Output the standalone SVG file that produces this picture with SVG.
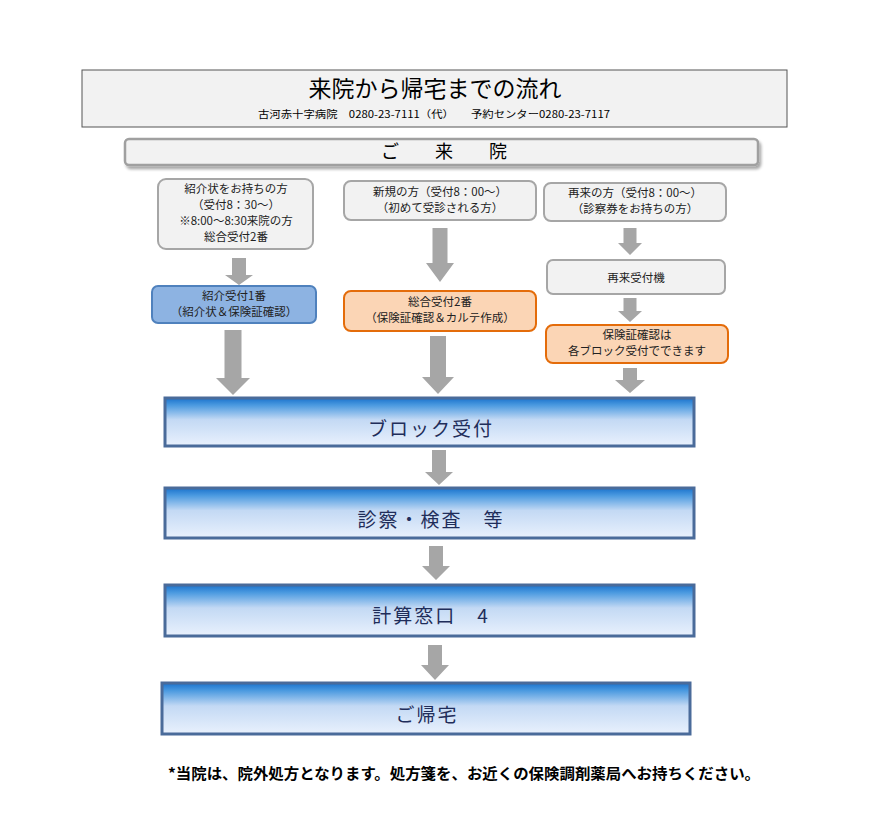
<svg xmlns="http://www.w3.org/2000/svg" width="876" height="834" viewBox="0 0 876 834">
<defs>
<linearGradient id="blueGrad" x1="0" y1="0" x2="0" y2="1">
<stop offset="0" stop-color="#1a72cc"/>
<stop offset="0.15" stop-color="#4b9ae0"/>
<stop offset="0.45" stop-color="#c3d9f4"/>
<stop offset="1" stop-color="#e9f1fd"/>
</linearGradient>
<filter id="shadow" x="-5%" y="-30%" width="110%" height="180%">
<feGaussianBlur in="SourceAlpha" stdDeviation="1.5"/>
<feOffset dx="2" dy="3" result="o"/>
<feComponentTransfer><feFuncA type="linear" slope="0.35"/></feComponentTransfer>
<feMerge><feMergeNode/><feMergeNode in="SourceGraphic"/></feMerge>
</filter>
</defs>
<style>
text{font-family:"Noto Sans CJK JP","Noto Sans",sans-serif;text-anchor:middle;fill:#222}
.small{font-size:11.5px}
.big{font-size:19px;fill:#1f2d5a;letter-spacing:2px}
.gray{fill:#f2f2f2;stroke:#a6a6a6;stroke-width:2}
.orange{fill:#fbd5b5;stroke:#e46c0a;stroke-width:2}
.blue{fill:#8db3e2;stroke:#4f81bd;stroke-width:2}
.stage{fill:url(#blueGrad);stroke:#4a6b9a;stroke-width:3}
.arrow{fill:#a6a6a6}
</style>
<rect width="876" height="834" fill="#ffffff"/>

<g id="header">
<rect x="82" y="70" width="705" height="57" fill="#f2f2f2" stroke="#555555" stroke-width="1"/>
<text x="435" y="97" style="font-size:23px;fill:#000">来院から帰宅までの流れ</text>
<text x="434" y="118" style="font-size:10px;fill:#000" textLength="352" lengthAdjust="spacingAndGlyphs">古河赤十字病院　0280-23-7111（代）　　予約センター0280-23-7117</text>
</g>

<g id="raiin">
<rect x="125" y="139" width="633" height="26" rx="4" fill="#f2f2f2" stroke="#a0a0a0" stroke-width="2.5" filter="url(#shadow)"/>
<text x="444" y="158" style="font-size:18px;fill:#000">ご　　来　　院</text>
</g>

<g id="shokaijo">
<rect x="158" y="179" width="155" height="70" rx="8" class="gray"/>
<text x="236" y="193" class="small">紹介状をお持ちの方</text>
<text x="236" y="209" class="small">（受付8：30～）</text>
<text x="236" y="225" class="small">※8:00～8:30来院の方</text>
<text x="236" y="241" class="small">総合受付2番</text>
</g>

<g id="shokai1">
<rect x="152" y="286" width="164" height="37" rx="6" class="blue"/>
<text x="234" y="300" class="small">紹介受付1番</text>
<text x="234" y="316" class="small">（紹介状＆保険証確認）</text>
</g>

<g id="shinki">
<rect x="344" y="181" width="192" height="39" rx="7" class="gray"/>
<text x="440" y="196" class="small">新規の方（受付8：00～）</text>
<text x="440" y="212" class="small">（初めて受診される方）</text>
</g>

<g id="sogo2">
<rect x="344" y="291" width="192" height="40" rx="7" class="orange"/>
<text x="440" y="306" class="small">総合受付2番</text>
<text x="440" y="322" class="small">（保険証確認＆カルテ作成）</text>
</g>

<g id="sairai">
<rect x="544" y="183" width="182" height="38" rx="7" class="gray"/>
<text x="635" y="197" class="small">再来の方（受付8：00～）</text>
<text x="635" y="213" class="small">（診察券をお持ちの方）</text>
</g>

<g id="sairaiki">
<rect x="547" y="260" width="178" height="34" rx="6" class="gray"/>
<text x="636" y="282" class="small">再来受付機</text>
</g>

<g id="hokensho">
<rect x="546" y="325" width="182" height="38" rx="7" class="orange"/>
<text x="637" y="339" class="small">保険証確認は</text>
<text x="637" y="355" class="small">各ブロック受付でできます</text>
</g>

<g id="block">
<rect x="165" y="398" width="529" height="48" class="stage"/>
<text x="431" y="436" class="big">ブロック受付</text>
</g>

<g id="shinsatsu">
<rect x="165" y="488" width="529" height="50" class="stage"/>
<text x="431" y="527" class="big">診察・検査　等</text>
</g>

<g id="keisan">
<rect x="165" y="585" width="529" height="51" class="stage"/>
<text x="431" y="623" class="big">計算窓口　4</text>
</g>

<g id="kitaku">
<rect x="162" y="683" width="528" height="51" class="stage"/>
<text x="427" y="722" class="big">ご帰宅</text>
</g>

<g id="connectors">
<polygon class="arrow" points="232,258 246,258 246,275 253,275 239,285 225,275 232,275"/>
<polygon class="arrow" points="224.5,330 241.5,330 241.5,378 250,378 233,395 216,378 224.5,378"/>
<polygon class="arrow" points="432.5,228 447.5,228 447.5,263 454,263 440,282 426,263 432.5,263"/>
<polygon class="arrow" points="430,336 446,336 446,377 454,377 438,394 422,377 430,377"/>
<polygon class="arrow" points="623.5,228 636.5,228 636.5,243 642,243 630,255 618,243 623.5,243"/>
<polygon class="arrow" points="623.5,298 636.5,298 636.5,311 642,311 630,322 618,311 623.5,311"/>
<polygon class="arrow" points="623,368 637,368 637,380 645,380 630,393 615,380 623,380"/>
<polygon class="arrow" points="432,450 446,450 446,472 453,472 439,485 425,472 432,472"/>
<polygon class="arrow" points="429,546 443,546 443,566 450,566 436,580 422,566 429,566"/>
<polygon class="arrow" points="428,645 442,645 442,665 449,665 435,680 421,665 428,665"/>
</g>

<g id="note">
<text x="464" y="779" style="font-size:15px;font-weight:bold;fill:#000" textLength="592" lengthAdjust="spacingAndGlyphs">*当院は、院外処方となります。処方箋を、お近くの保険調剤薬局へお持ちください。</text>
</g>
</svg>
